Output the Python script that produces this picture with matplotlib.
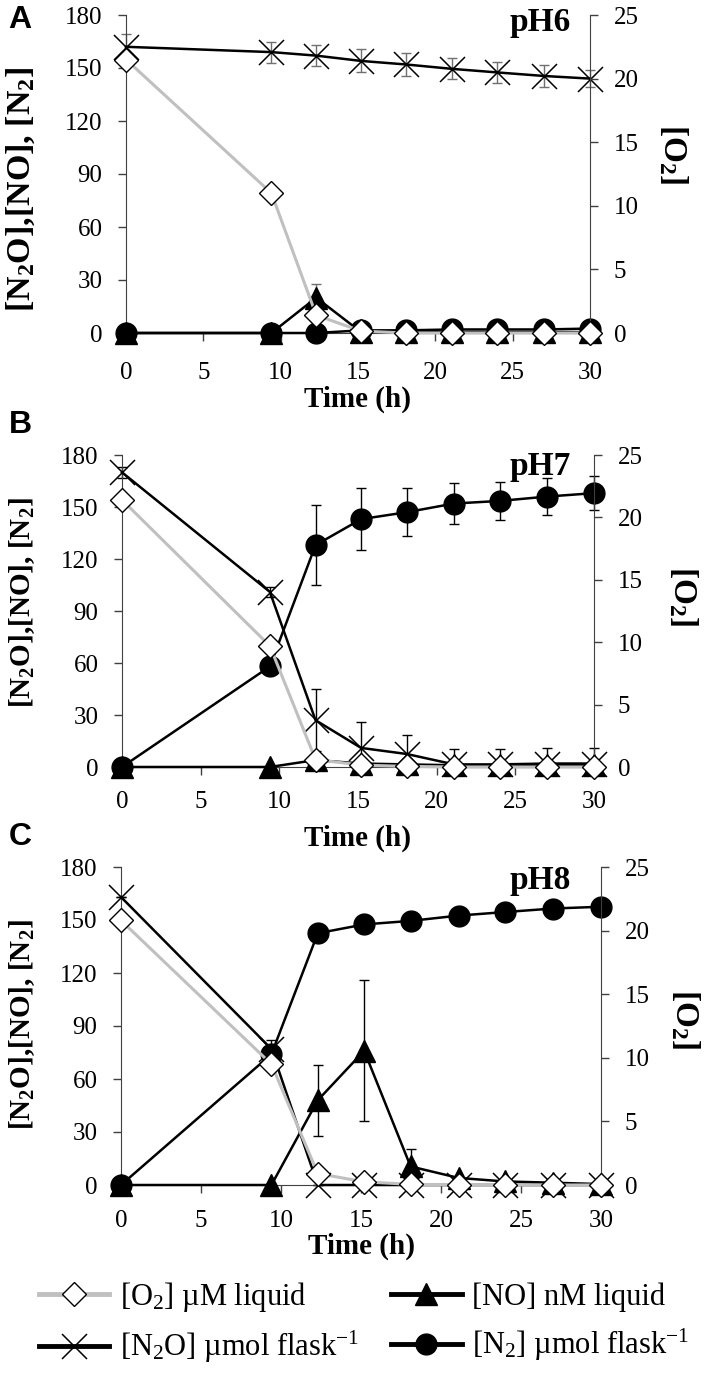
import matplotlib
matplotlib.use('Agg')
import matplotlib.pyplot as plt
from matplotlib.lines import Line2D
import numpy as np

plt.rcParams['font.family'] = 'Liberation Serif'
plt.rcParams['mathtext.fontset'] = 'custom'
plt.rcParams['mathtext.rm'] = 'Liberation Serif'
plt.rcParams['mathtext.default'] = 'regular'

# sampling times (h)
time_h = [0, 9.4, 12.3, 15.2, 18.1, 21.1, 24.0, 27.0, 30.0]

# panel A, pH6
o2_a = [21.5, 11.0, 1.4, 0.15, 0.0, 0.0, 0.0, 0.0, 0.0]
no_a = [0, 0, 20, 0.5, 0.5, 0.5, 0.5, 0.5, 0.5]
no_a_err = [0, 0, 8, 0, 0, 0, 0, 0, 0]
n2o_a = [162, 159, 157, 154, 152, 149.5, 147.5, 145.5, 144]
n2o_a_err = [7, 6, 6, 6.5, 6.5, 6, 6, 6, 5]
n2_a = [0, 0, 0, 1.5, 1.5, 2, 2, 2, 2.5]
n2_a_err = [0, 0, 0, 0, 0, 0, 0, 0, 0]

# panel B, pH7
o2_b = [21.4, 9.7, 0.6, 0.15, 0.05, 0.0, 0.0, 0.0, 0.0]
no_b = [0, 0, 4, 2, 1.5, 1, 1, 1, 1]
no_b_err = [0, 0, 0, 0, 0, 0, 0, 0, 0]
n2o_b = [170, 101, 27, 11, 7.5, 1.5, 1.5, 2, 2]
n2o_b_err = [3, 3, 18, 15, 11, 9, 9, 9, 9]
n2_b = [0, 58, 128, 143, 147, 152, 153.5, 156, 158]
n2_b_err = [0, 2, 23, 18, 14, 12, 11, 10.5, 10]

# panel C, pH8
o2_c = [20.8, 9.5, 0.9, 0.25, 0.05, 0.0, 0.0, 0.0, 0.0]
no_c = [0, 0, 48, 76, 10.5, 4, 2, 1.3, 0.5]
no_c_err = [0, 0, 20, 40, 10, 0, 0, 0, 0]
n2o_c = [163, 77, 0, 0, 0, 0, 0, 0, 0]
n2o_c_err = [0, 5, 0, 0, 0, 0, 0, 0, 0]
n2_c = [0, 74, 142.5, 147.5, 149.5, 152.5, 154.5, 156.5, 157.5]
n2_c_err = [0, 0, 0, 0, 0, 0, 0, 0, 0]

panel_letters = ['A', 'B', 'C']
ph_labels = ['pH6', 'pH7', 'pH8']
legend_labels = ['[O$_2$] \u00b5M liquid', '[N$_2$O] \u00b5mol flask$^{-1}$',
                 '[NO] nM liquid', '[N$_2$] \u00b5mol flask$^{-1}$']

W, H = 708, 1380
fig = plt.figure(figsize=(W / 100, H / 100), dpi=100)

# axes boxes in pixels: left, right, top, bottom
boxes = [(126, 590, 15, 333), (122, 594, 455, 767), (121, 601, 867, 1185)]
letter_y = [20, 425, 837]
ph_y = [22, 466, 880]
xlabel_y = [-0.208, -0.228, -0.192]
xpad = [15, 11, 12]
ylab_size = [24.5, 21, 21]
ylab_pos = [(-0.226, 0.453), (-0.212, 0.526), (-0.206, 0.503)]
o2lab_pos = [(1.18, 0.563), (1.188, 0.548), (1.175, 0.522)]

data = [
    (o2_a, no_a, no_a_err, n2o_a, n2o_a_err, n2_a, n2_a_err),
    (o2_b, no_b, no_b_err, n2o_b, n2o_b_err, n2_b, n2_b_err),
    (o2_c, no_c, no_c_err, n2o_c, n2o_c_err, n2_c, n2_c_err),
]

axcol = '#404040'


def errs(vals, err):
    vals = np.array(vals, float)
    err = np.array(err, float)
    return [np.minimum(err, vals), err]


for i, (o2, no, no_err, n2o, n2o_err, n2, n2_err) in enumerate(data):
    l, r, t, b = boxes[i]
    ax = fig.add_axes([l / W, 1 - b / H, (r - l) / W, (b - t) / H])
    ax2 = ax.twinx()

    ecol = '#707070' if i == 0 else 'k'
    for vals, err in [(no, no_err), (n2o, n2o_err), (n2, n2_err)]:
        if max(err) > 0:
            ax.errorbar(time_h, vals, yerr=errs(vals, err), fmt='none', ecolor=ecol,
                        elinewidth=1, capsize=3.5, capthick=1, zorder=2, clip_on=False)

    ax.plot(time_h, no, '-^', color='k', lw=1.8, ms=16, zorder=3, clip_on=False)
    ax.plot(time_h, n2o, '-x', color='k', lw=1.8, ms=18, mew=1.1, zorder=3, clip_on=False)
    ax.plot(time_h, n2, '-o', color='k', lw=1.8, ms=15, zorder=4, clip_on=False)
    ax2.plot(time_h, o2, '-D', color='#c0c0c0', lw=2.2, ms=12, mfc='white', mec='k',
             mew=1, zorder=3, clip_on=False)

    ax.set_xlim(0, 30)
    ax.set_ylim(0, 180)
    ax.set_xticks(range(0, 31, 5))
    ax.set_yticks(range(0, 181, 30))
    ax2.set_ylim(0, 25)
    ax2.set_yticks(range(0, 26, 5))

    for s in ['top', 'right']:
        ax.spines[s].set_visible(False)
    for s in ['top', 'left', 'bottom']:
        ax2.spines[s].set_visible(False)
    for s in ['left', 'bottom']:
        ax.spines[s].set_color(axcol)
    ax2.spines['right'].set_color(axcol)

    ax.tick_params(axis='y', direction='out', length=6, width=1, color=axcol,
                   labelsize=18, pad=11)
    ax.tick_params(axis='x', direction='out', length=6, width=1, color=axcol,
                   labelsize=18, pad=xpad[i])
    ax2.tick_params(axis='y', direction='out', length=6, width=1, color=axcol,
                    labelsize=18, pad=11)

    ax.set_xlabel('Time (h)', fontsize=21, fontweight='bold')
    ax.xaxis.label.set_va('center')
    ax.xaxis.set_label_coords(0.5, xlabel_y[i])

    ax.set_ylabel('[N$_2$O],[NO], [N$_2$]', fontsize=ylab_size[i], fontweight='bold')
    ax.yaxis.label.set_va('center')
    ax.yaxis.set_label_coords(*ylab_pos[i])

    ax2.set_ylabel('[O$_2$]', fontsize=24, fontweight='bold', rotation=270)
    ax2.yaxis.label.set_va('center')
    ax2.yaxis.set_label_coords(*o2lab_pos[i])

    fig.text(20 / W, 1 - letter_y[i] / H, panel_letters[i], family='Liberation Sans',
             fontsize=23, fontweight='bold', ha='center', va='center')
    fig.text(540 / W, 1 - ph_y[i] / H, ph_labels[i], fontsize=24, fontweight='bold',
             ha='center', va='center')

handles = [
    Line2D([], [], color='#c0c0c0', lw=3.5, marker='D', ms=12, mfc='white', mec='k', mew=1),
    Line2D([], [], color='k', lw=3.5, marker='x', ms=18, mew=1.1),
    Line2D([], [], color='k', lw=3.5, marker='^', ms=16),
    Line2D([], [], color='k', lw=3.5, marker='o', ms=15),
]
fig.legend(handles, legend_labels, ncol=2, loc='upper left',
           bbox_to_anchor=(39 / W, 1 - 1280 / H), frameon=False, fontsize=22,
           handlelength=2.3, handletextpad=0.35, columnspacing=1.05,
           labelspacing=0.5, borderpad=0, borderaxespad=0)

fig.savefig('out.png', dpi=100)
